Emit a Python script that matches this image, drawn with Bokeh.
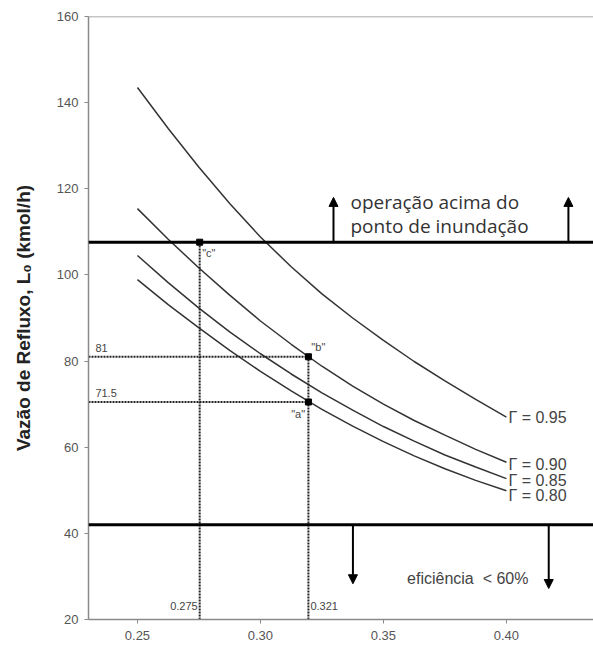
from bokeh.plotting import figure
from bokeh.models import Span, Arrow, NormalHead, FixedTicker, NumeralTickFormatter
from bokeh.core.properties import value
from bokeh.embed import file_html
from bokeh.resources import INLINE

# ---- data ----
x_vals = [0.25, 0.2625, 0.275, 0.2875, 0.30, 0.3125, 0.325, 0.3375, 0.35, 0.3625, 0.375, 0.3875, 0.40]
g095 = [143.5, 134.0, 125.0, 116.6, 108.8, 101.9, 95.6, 90.0, 84.8, 79.9, 75.4, 71.1, 67.0]
g090 = [115.4, 108.3, 101.6, 95.3, 89.3, 83.9, 78.8, 74.2, 70.0, 66.2, 62.8, 59.5, 56.5]
g085 = [104.5, 98.2, 92.3, 86.8, 81.7, 77.0, 72.6, 68.6, 64.8, 61.4, 58.2, 55.4, 52.7]
g080 = [98.9, 93.1, 87.7, 82.5, 77.6, 73.1, 68.8, 64.9, 61.3, 58.0, 55.0, 52.3, 49.9]
curve_labels = ["\u0393 = 0.95", "\u0393 = 0.90", "\u0393 = 0.85", "\u0393 = 0.80"]
label_y = [67.0, 56.0, 52.3, 48.8]

flood_limit = 107.6
eff_limit = 42.0
point_x = [0.2753, 0.3195, 0.3195]
point_y = [107.6, 81.0, 70.5]
point_names = ['"c"', '"b"', '"a"']
x_ticks = [0.25, 0.30, 0.35, 0.40]
y_ticks = [20, 40, 60, 80, 100, 120, 140, 160]

X0, X1 = 0.2301, 0.4354

p = figure(width=593, height=648, x_range=(X0, X1), y_range=(20, 160),
           output_backend="svg", toolbar_location=None,
           min_border_left=88, min_border_right=0, min_border_top=16, min_border_bottom=29)
p.outline_line_color = None
p.grid.grid_line_color = None
p.background_fill_color = "white"
p.border_fill_color = "white"

axis_col = "#8a8a8a"
for ax in (p.xaxis[0], p.yaxis[0]):
    ax.axis_line_color = axis_col
    ax.axis_line_width = 1.5
    ax.major_tick_line_color = axis_col
    ax.major_tick_in = 0
    ax.major_tick_out = 4
    ax.minor_tick_line_color = None
    ax.major_label_text_font = "Liberation Sans"
    ax.major_label_text_font_size = "13px"
    ax.major_label_text_color = "#555555"

p.xaxis.ticker = FixedTicker(ticks=x_ticks)
p.xaxis.formatter = NumeralTickFormatter(format="0.00")
p.xaxis.major_label_standoff = 7
p.yaxis.ticker = FixedTicker(ticks=y_ticks)
p.yaxis.major_label_standoff = 6
p.yaxis.axis_label = "Vaz\u00e3o de Refluxo, L\u2080 (kmol/h)"
p.yaxis.axis_label_text_font = "Liberation Sans"
p.yaxis.axis_label_text_font_style = "bold"
p.yaxis.axis_label_text_font_size = "19px"
p.yaxis.axis_label_text_color = "#222222"
p.yaxis.axis_label_standoff = 20

# top frame line
p.add_layout(Span(location=160, dimension="width", line_color=axis_col, line_width=1.5))

# curves
for ys in (g095, g090, g085, g080):
    p.line(x_vals, ys, line_color="#333333", line_width=1.5)

p.text(x=[0.4008] * 4, y=label_y, text=curve_labels,
       text_font=value("Liberation Sans"), text_font_size="16px",
       text_color="#444444", text_baseline="middle", text_align="left")

# limits
p.add_layout(Span(location=flood_limit, dimension="width", line_color="black", line_width=3))
p.add_layout(Span(location=eff_limit, dimension="width", line_color="black", line_width=3))

# arrows
for xa in (0.3297, 0.4252):
    p.add_layout(Arrow(end=NormalHead(size=9, fill_color="black", line_color="black"),
                       x_start=xa, y_start=flood_limit, x_end=xa, y_end=118.0,
                       line_color="black", line_width=2))
for xa, ye in ((0.3376, 28.3), (0.4172, 27.2)):
    p.add_layout(Arrow(end=NormalHead(size=9, fill_color="black", line_color="black"),
                       x_start=xa, y_start=eff_limit, x_end=xa, y_end=ye,
                       line_color="black", line_width=2))

p.text(x=[0.3366, 0.3366], y=[116.9, 111.4],
       text=["opera\u00e7\u00e3o acima do", "ponto de inunda\u00e7\u00e3o"],
       text_font=value("Open Sans"), text_font_size="19px", text_color="#333333",
       text_baseline="middle", text_align="left")
p.text(x=[0.3596], y=[29.6], text=["efici\u00eancia\u00a0 < 60%"],
       text_font=value("Liberation Sans"), text_font_size="16px", text_color="#444444",
       text_baseline="middle", text_align="left")

# dotted guide lines
dot = dict(line_color="#222222", line_width=2, line_dash="2 1")
p.line([X0, point_x[1]], [point_y[1], point_y[1]], **dot)
p.line([X0, point_x[2]], [point_y[2], point_y[2]], **dot)
p.line([point_x[0], point_x[0]], [20, point_y[0]], **dot)
p.line([point_x[1], point_x[1]], [20, point_y[1]], **dot)

p.scatter(point_x, point_y, marker="square", size=6, color="black")

small = dict(text_font=value("Liberation Sans"), text_font_size="11px", text_color="#444444")
p.text(x=[0.2329, 0.2329], y=[point_y[1] + 1.2, point_y[2] + 1.2], text=["81", "71.5"],
       text_baseline="bottom", text_align="left", **small)
p.text(x=[point_x[0] - 0.0008], y=[22.3], text=["0.275"],
       text_baseline="bottom", text_align="right", **small)
p.text(x=[point_x[1] + 0.0008], y=[22.3], text=["0.321"],
       text_baseline="bottom", text_align="left", **small)
p.text(x=[point_x[0] + 0.001, point_x[2] - 0.007], y=[point_y[0] - 1.0, point_y[2] - 1.5],
       text=[point_names[0], point_names[2]], text_baseline="top", text_align="left", **small)
p.text(x=[point_x[1] + 0.0012], y=[point_y[1] + 0.8], text=[point_names[1]],
       text_baseline="bottom", text_align="left", **small)

open("out.html", "w").write(file_html(p, INLINE))
